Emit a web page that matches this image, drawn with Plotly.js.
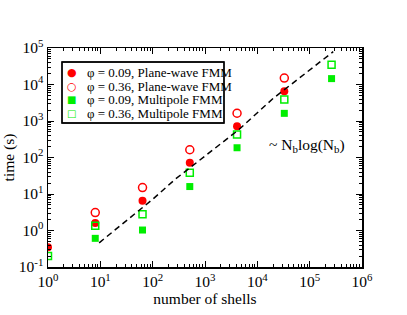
<!DOCTYPE html>
<html>
<head>
<meta charset="utf-8">
<script src="https://cdn.plot.ly/plotly-3.0.1.min.js"></script>
<style>html,body{margin:0;padding:0;background:#fff;}#chart{width:407px;height:315px;}</style>
</head>
<body>
<div id="chart"></div>
<script>
// number of shells
const shellsPW = [1, 8, 64, 512, 4096, 32768];
const shellsMP = [1, 8, 64, 512, 4096, 32768, 262144];
// time (s)
const pw009 = [0.35, 1.6, 6.5, 72, 720, 6500];
const pw036 = [null, 3.1, 15, 163, 1630, 15000];
const mp009 = [null, 0.61, 1.03, 16, 185, 1620, 14500];
const mp036 = [0.2, 1.35, 2.77, 38, 425, 3900, 35000];
// ~ Nb log(Nb) guide line
const fitN = [9.5, 97, 269, 4340, 20200, 282000];
const fitTime = [0.46, 6.9, 25.3, 566, 4190, 79300];
// tick labels
const xTickVals = [1, 10, 100, 1000, 10000, 100000, 1000000];
const xTickText = ['10<sup>0</sup>', '10<sup>1</sup>', '10<sup>2</sup>', '10<sup>3</sup>', '10<sup>4</sup>', '10<sup>5</sup>', '10<sup>6</sup>'];
const yTickVals = [0.1, 1, 10, 100, 1000, 10000, 100000];
const yTickText = ['10<sup>-1</sup>', '10<sup>0</sup>', '10<sup>1</sup>', '10<sup>2</sup>', '10<sup>3</sup>', '10<sup>4</sup>', '10<sup>5</sup>'];
// legend
const seriesNames = ['φ = 0.09, Plane-wave FMM', 'φ = 0.36, Plane-wave FMM', 'φ = 0.09, Multipole FMM', 'φ = 0.36, Multipole FMM'];
const seriesGlyphs = ['●', '○', '■', '□'];

const serif = 'Liberation Serif, Times New Roman, serif';
const red = '#ff0000', green = '#00ee00';
const seriesColors = [red, red, green, green];

const traces = [
  {x: shellsPW, y: pw009, mode: 'markers', name: seriesNames[0],
   marker: {symbol: 'circle', size: 8, color: red}},
  {x: shellsPW, y: pw036, mode: 'markers', name: seriesNames[1],
   marker: {symbol: 'circle-open', size: 8, color: red, line: {width: 1.5}}},
  {x: shellsMP, y: mp009, mode: 'markers', name: seriesNames[2],
   marker: {symbol: 'square', size: 7, color: green}},
  {x: shellsMP, y: mp036, mode: 'markers', name: seriesNames[3],
   marker: {symbol: 'square-open', size: 7, color: green, line: {width: 1.5}}},
  {x: fitN, y: fitTime, mode: 'lines', name: '~ Nb log(Nb)',
   line: {color: 'black', width: 1.5, dash: '6px,4px'}}
];

function makeAxis(extra) {
  return Object.assign({
    type: 'log', showgrid: false, zeroline: false,
    showline: true, linecolor: 'black', linewidth: 1.5, mirror: 'ticks',
    ticks: 'inside', ticklen: 6, tickwidth: 1, tickcolor: 'black',
    minor: {ticks: 'inside', ticklen: 3, dtick: 'D1', tickcolor: 'black', tickwidth: 1, showgrid: false},
    tickfont: {family: serif, size: 15.5, color: 'black'}
  }, extra);
}

// legend frame, in fractions of the plot area
const legFrame = {x0: 0.0446, x1: 0.5605, y0: 0.6575, y1: 0.936};

// manual legend (compact, like the reference)
const rowY = [0.890, 0.826, 0.763, 0.699];
const annotations = [];
seriesNames.forEach((nm, i) => {
  annotations.push({xref: 'paper', yref: 'paper', x: 0.0764, y: rowY[i], xanchor: 'center', yanchor: 'middle',
    text: seriesGlyphs[i], showarrow: false,
    font: {family: 'DejaVu Sans', size: i < 2 ? 11 : 10, color: seriesColors[i]}});
  annotations.push({xref: 'paper', yref: 'paper', x: 0.1178, y: rowY[i], xanchor: 'left', yanchor: 'middle',
    text: nm, showarrow: false, font: {family: serif, size: 13, color: 'black'}});
});
annotations.push({
  xref: 'paper', yref: 'paper', x: 0.825, y: 0.557, xanchor: 'center', yanchor: 'middle',
  text: '~ N<sub>b</sub>log(N<sub>b</sub>)', showarrow: false,
  font: {family: serif, size: 15.5, color: 'black'}
});

const layout = {
  width: 407, height: 315,
  margin: {l: 48, r: 45, t: 48, b: 48},
  paper_bgcolor: 'white', plot_bgcolor: 'white',
  showlegend: false,
  xaxis: makeAxis({
    range: [0, 6], tickvals: xTickVals, ticktext: xTickText,
    title: {text: 'number of shells', font: {family: serif, size: 15.5, color: 'black'}, standoff: 0}
  }),
  yaxis: makeAxis({
    range: [-1, 5], tickvals: yTickVals, ticktext: yTickText,
    title: {text: 'time (s)', font: {family: serif, size: 15.5, color: 'black'}, standoff: 4}
  }),
  shapes: [{type: 'rect', xref: 'paper', yref: 'paper',
    x0: legFrame.x0, x1: legFrame.x1, y0: legFrame.y0, y1: legFrame.y1,
    line: {color: '#000000', width: 1.3}, layer: 'above'}],
  annotations: annotations
};

Plotly.newPlot('chart', traces, layout, {displayModeBar: false, staticPlot: true}).then(function (gd) {
  // make sure the legend frame is visible on top of everything
  const sz = gd._fullLayout._size;
  const svgs = gd.querySelectorAll('svg.main-svg');
  const topSvg = svgs[svgs.length - 1];
  const r = document.createElementNS('http://www.w3.org/2000/svg', 'rect');
  r.setAttribute('x', sz.l + sz.w * legFrame.x0);
  r.setAttribute('y', sz.t + sz.h * (1 - legFrame.y1));
  r.setAttribute('width', sz.w * (legFrame.x1 - legFrame.x0));
  r.setAttribute('height', sz.h * (legFrame.y1 - legFrame.y0));
  r.setAttribute('fill', 'none');
  r.setAttribute('stroke', '#000000');
  r.setAttribute('stroke-width', '1.3');
  topSvg.appendChild(r);
});
</script>
</body>
</html>
